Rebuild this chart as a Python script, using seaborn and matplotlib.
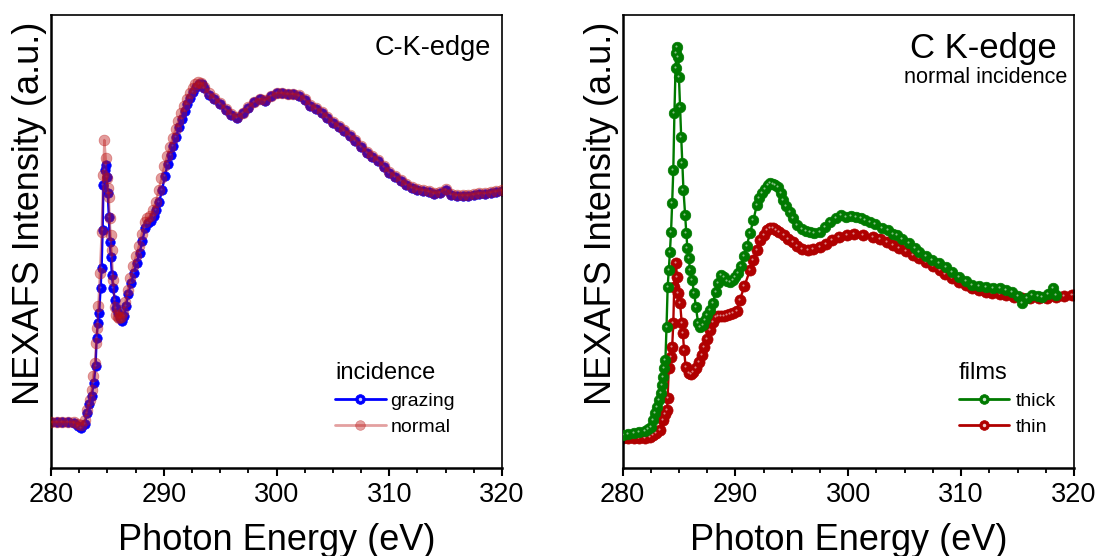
import matplotlib
matplotlib.use("Agg")
import matplotlib.pyplot as plt
import matplotlib.transforms as mtransforms
from matplotlib.lines import Line2D
from matplotlib.ticker import MultipleLocator
import numpy as np
import pandas as pd
import seaborn as sns

# ---------------- data (arbitrary intensity units) -------------
grazing_x = [280.0, 280.5, 281.0, 281.5, 282.0, 282.4, 282.7, 283.0, 283.2, 283.4, 283.6, 283.8,
             283.95, 284.05, 284.15, 284.27, 284.4, 284.49, 284.58, 284.65, 284.75, 284.84, 284.93,
             285.03, 285.13, 285.22, 285.3, 285.4, 285.51, 285.66, 285.8, 285.96, 286.1, 286.26,
             286.45, 286.65, 286.85, 287.1, 287.35, 287.6, 287.85, 288.1, 288.35, 288.6, 288.85,
             289.1, 289.35, 289.6, 289.85, 290.1, 290.35, 290.6, 290.85, 291.1, 291.35, 291.6,
             291.85, 292.1, 292.35, 292.6, 292.85, 293.1, 293.35, 293.6, 294.0, 294.5, 295.0,
             295.5, 296.0, 296.5, 297.0, 297.5, 298.0, 298.5, 299.0, 299.5, 300.0, 300.5, 301.0,
             301.5, 302.0, 302.5, 303.0, 303.5, 304.0, 304.5, 305.0, 305.5, 306.0, 306.5, 307.0,
             307.5, 308.0, 308.5, 309.0, 309.5, 310.0, 310.5, 311.0, 311.5, 312.0, 312.5, 313.0,
             313.5, 314.0, 314.5, 315.0, 315.5, 316.0, 316.5, 317.0, 317.5, 318.0, 318.5, 319.0,
             319.5, 320.0]
grazing_y = [0.46, 0.46, 0.46, 0.46, 0.45, 0.42, 0.40, 0.44, 0.55, 0.64, 0.72, 0.85,
             1.02, 1.30, 1.45, 1.55, 1.80, 2.00, 2.38, 2.83, 2.98, 3.03, 2.91,
             2.75, 2.51, 2.26, 2.11, 1.93, 1.80, 1.68, 1.60, 1.55, 1.50, 1.47,
             1.52, 1.62, 1.74, 1.85, 1.95, 2.05, 2.15, 2.27, 2.40, 2.45, 2.47,
             2.52, 2.58, 2.66, 2.78, 2.92, 3.04, 3.13, 3.22, 3.31, 3.41, 3.49,
             3.57, 3.64, 3.70, 3.76, 3.81, 3.84, 3.84, 3.80, 3.73, 3.69, 3.64,
             3.58, 3.53, 3.50, 3.55, 3.60, 3.66, 3.69, 3.67, 3.72, 3.75, 3.75, 3.74,
             3.74, 3.72, 3.68, 3.62, 3.59, 3.55, 3.50, 3.45, 3.41, 3.37, 3.32, 3.27,
             3.21, 3.15, 3.11, 3.07, 3.01, 2.95, 2.91, 2.87, 2.83, 2.80, 2.78, 2.77,
             2.76, 2.74, 2.75, 2.78, 2.73, 2.72, 2.72, 2.72, 2.73, 2.74, 2.74, 2.75,
             2.76, 2.77]

normal_x = [280.0, 280.5, 281.0, 281.5, 282.0, 282.4, 282.7, 283.0, 283.2, 283.45, 283.6, 283.75,
            283.9, 284.0, 284.1, 284.2, 284.34, 284.49, 284.63, 284.73, 284.85, 284.93, 285.03,
            285.13, 285.2, 285.28, 285.37, 285.51, 285.66, 285.8, 285.93, 286.05, 286.2, 286.4,
            286.6, 286.8, 287.05, 287.3, 287.55, 287.8, 288.05, 288.3, 288.55, 288.8, 289.05,
            289.3, 289.55, 289.8, 290.05, 290.3, 290.55, 290.8, 291.05, 291.3, 291.55, 291.8,
            292.05, 292.3, 292.55, 292.8, 293.05, 293.3, 293.6, 294.0, 294.5, 295.0, 295.5,
            296.0, 296.5, 297.0, 297.5, 298.0, 298.5, 299.0, 299.5, 300.0, 300.5, 301.0, 301.5,
            302.0, 302.5, 303.0, 303.5, 304.0, 304.5, 305.0, 305.5, 306.0, 306.5, 307.0, 307.5,
            308.0, 308.5, 309.0, 309.5, 310.0, 310.5, 311.0, 311.5, 312.0, 312.5, 313.0, 313.5,
            314.0, 314.5, 315.0, 315.5, 316.0, 316.5, 317.0, 317.5, 318.0, 318.5, 319.0, 319.5,
            320.0]
normal_y = [0.46, 0.46, 0.46, 0.46, 0.46, 0.44, 0.43, 0.48, 0.58, 0.68, 0.78, 0.92,
            1.05, 1.25, 1.40, 1.62, 1.95, 2.36, 2.93, 3.28, 3.10, 2.90, 2.80,
            2.71, 2.50, 2.33, 2.18, 1.88, 1.61, 1.53, 1.51, 1.50, 1.51, 1.56,
            1.66, 1.78, 1.90, 2.02, 2.12, 2.22, 2.34, 2.46, 2.50, 2.52, 2.58,
            2.66, 2.78, 2.90, 3.02, 3.12, 3.21, 3.30, 3.39, 3.47, 3.55, 3.62,
            3.69, 3.75, 3.80, 3.84, 3.86, 3.85, 3.81, 3.75, 3.70, 3.65, 3.59,
            3.54, 3.51, 3.55, 3.61, 3.66, 3.69, 3.68, 3.72, 3.75, 3.75, 3.74, 3.74,
            3.73, 3.69, 3.63, 3.60, 3.56, 3.51, 3.46, 3.42, 3.38, 3.33, 3.28, 3.22,
            3.16, 3.12, 3.08, 3.02, 2.96, 2.92, 2.88, 2.84, 2.81, 2.79, 2.78, 2.77,
            2.75, 2.76, 2.79, 2.74, 2.73, 2.73, 2.73, 2.74, 2.75, 2.75, 2.76, 2.77,
            2.78]

thick_x = [280.0, 280.5, 281.0, 281.5, 282.0, 282.3, 282.5, 282.7, 282.9, 283.1, 283.25, 283.4,
           283.5, 283.6, 283.7, 283.8, 283.9, 284.0, 284.1, 284.2, 284.3, 284.4, 284.5, 284.6,
           284.7, 284.78, 284.85, 284.95, 285.0, 285.1, 285.2, 285.3, 285.4, 285.55, 285.65,
           285.75, 285.85, 286.0, 286.15, 286.35, 286.5, 286.7, 286.9, 287.1, 287.3, 287.5,
           287.75, 288.0, 288.25, 288.5, 288.75, 289.0, 289.25, 289.5, 289.75, 290.0, 290.25,
           290.5, 290.75, 291.0, 291.3, 291.6, 291.9, 292.1, 292.35, 292.6, 292.85, 293.05,
           293.3, 293.55, 293.8, 294.0, 294.2, 294.5, 294.8, 295.1, 295.5, 295.9, 296.3, 296.6,
           297.0, 297.5, 297.9, 298.4, 298.9, 299.4, 299.8, 300.2, 300.7, 301.1, 301.5, 301.9,
           302.4, 303.0, 303.5, 304.0, 304.3, 304.8, 305.4, 305.9, 306.3, 306.9, 307.45, 308.0,
           308.7, 309.2, 309.8, 310.4, 311.0, 311.6, 312.2, 312.8, 313.4, 314.0, 314.5, 315.0,
           315.4, 315.8, 316.3, 316.8, 317.2, 317.7, 318.1, 318.4]
thick_y = [0.33, 0.34, 0.35, 0.36, 0.37, 0.39, 0.41, 0.48, 0.55, 0.61, 0.68, 0.75,
           0.83, 0.91, 1.00, 1.08, 1.41, 1.81, 1.98, 2.16, 2.36, 2.65, 2.98, 3.55,
           4.00, 4.15, 4.21, 4.11, 3.91, 3.61, 3.31, 3.05, 2.78, 2.53, 2.35,
           2.20, 2.10, 1.98, 1.88, 1.75, 1.61, 1.45, 1.41, 1.43, 1.48, 1.53,
           1.58, 1.65, 1.76, 1.85, 1.93, 1.91, 1.87, 1.86, 1.88, 1.91, 1.95,
           2.02, 2.12, 2.22, 2.35, 2.48, 2.63, 2.70, 2.75, 2.79, 2.83, 2.85,
           2.84, 2.83, 2.81, 2.75, 2.68, 2.62, 2.56, 2.50, 2.43, 2.39, 2.37, 2.36,
           2.35, 2.36, 2.41, 2.46, 2.50, 2.53, 2.51, 2.52, 2.51, 2.50, 2.48, 2.46,
           2.44, 2.40, 2.38, 2.34, 2.33, 2.29, 2.25, 2.20, 2.16, 2.12, 2.08, 2.05,
           2.01, 1.96, 1.91, 1.87, 1.83, 1.82, 1.81, 1.80, 1.80, 1.78, 1.76, 1.72,
           1.65, 1.70, 1.73, 1.72, 1.71, 1.74, 1.80, 1.73]

thin_x = [280.0, 280.5, 281.0, 281.5, 282.0, 282.4, 282.7, 283.0, 283.35, 283.6, 283.8, 283.95,
          284.0, 284.1, 284.3, 284.4, 284.5, 284.58, 284.7, 284.85, 284.95, 285.1, 285.25,
          285.35, 285.45, 285.6, 285.85, 286.05, 286.25, 286.5, 286.75, 287.0, 287.25, 287.5,
          287.75, 288.0, 288.25, 288.5, 288.75, 289.0, 289.25, 289.5, 289.8, 290.1, 290.4,
          290.8, 291.3, 291.6, 291.9, 292.2, 292.5, 292.8, 293.05, 293.3, 293.6, 293.9, 294.3,
          294.7, 295.1, 295.5, 295.9, 296.4, 296.9, 297.5, 298.0, 298.6, 299.2, 299.85, 300.5,
          301.3, 302.15, 302.8, 303.4, 304.0, 304.5, 305.1, 305.7, 306.3, 306.9, 307.5, 308.1,
          308.6, 309.2, 309.8, 310.45, 311.0, 311.6, 312.2, 312.75, 313.4, 314.0, 314.7, 315.4,
          316.1, 316.9, 317.6, 318.4, 319.1, 319.8, 320.0]
thin_y = [0.30, 0.30, 0.30, 0.30, 0.30, 0.31, 0.33, 0.35, 0.38, 0.48, 0.54, 0.58,
          0.70, 1.00, 1.11, 1.21, 1.45, 1.81, 2.05, 1.91, 1.75, 1.65, 1.45,
          1.35, 1.18, 1.01, 0.95, 0.94, 0.96, 1.00, 1.06, 1.13, 1.21, 1.29,
          1.38, 1.46, 1.51, 1.52, 1.52, 1.52, 1.53, 1.54, 1.55, 1.57, 1.68,
          1.82, 1.98, 2.08, 2.18, 2.28, 2.33, 2.38, 2.40, 2.40, 2.38, 2.36, 2.33,
          2.29, 2.26, 2.22, 2.19, 2.18, 2.19, 2.21, 2.24, 2.28, 2.31, 2.33, 2.34,
          2.33, 2.31, 2.29, 2.26, 2.23, 2.20, 2.17, 2.13, 2.10, 2.06, 2.02, 1.98,
          1.94, 1.90, 1.86, 1.83, 1.80, 1.78, 1.76, 1.75, 1.74, 1.73, 1.71, 1.70,
          1.70, 1.70, 1.70, 1.71, 1.72, 1.73, 1.73]

x_ticks = [280, 290, 300, 310, 320]
left_labels = ["grazing", "normal"]
right_labels = ["thick", "thin"]

# ---------------- styling ----------------
sns.set_theme(style="ticks")
plt.rcParams["font.family"] = ["Liberation Sans", "DejaVu Sans"]
plt.rcParams["text.color"] = "black"
plt.rcParams["axes.labelcolor"] = "black"
plt.rcParams["xtick.color"] = "black"
plt.rcParams["ytick.color"] = "black"
plt.rcParams["legend.labelcolor"] = "black"

BLUE = "#0000FF"
PINK = "#BB1212"
GREEN = "#007A00"
RED = "#B00000"

fig = plt.figure(figsize=(11, 5.56), dpi=100)
ax1 = fig.add_axes([51 / 1100, 88 / 556, 451 / 1100, 453 / 556])
ax2 = fig.add_axes([622.5 / 1100, 88 / 556, 451.5 / 1100, 453 / 556])


def draw(ax, x, y, color, ms, alpha=1.0, lw=1.7, hl_alpha=0.0, hl_ms=1.5, z=2):
    df = pd.DataFrame({"E": x, "I": y})
    sns.lineplot(data=df, x="E", y="I", ax=ax, color=color, lw=lw, alpha=alpha,
                 marker="o", markersize=ms, markeredgecolor=color, markeredgewidth=0.5,
                 sort=False, estimator=None, legend=False, zorder=z)
    if hl_alpha > 0:
        off = mtransforms.offset_copy(ax.transData, fig=fig, x=-1.0, y=1.0, units="dots")
        ax.plot(x, y, ls="none", marker="o", markersize=hl_ms, color="white",
                alpha=hl_alpha, markeredgewidth=0, transform=off, zorder=z + 0.1)


draw(ax1, grazing_x, grazing_y, BLUE, 6.8, hl_alpha=0.25, z=2)
draw(ax1, normal_x, normal_y, PINK, 7.8, alpha=0.42, z=3)
draw(ax2, thin_x, thin_y, RED, 8.0, hl_alpha=0.55, z=2)
draw(ax2, thick_x, thick_y, GREEN, 7.6, hl_alpha=0.55, z=3)

for ax in (ax1, ax2):
    ax.set_xlim(280, 320)
    ax.set_ylim(0, 4.53)
    ax.set_xticks(x_ticks)
    ax.set_xticklabels([str(t) for t in x_ticks])
    ax.xaxis.set_minor_locator(MultipleLocator(2.5))
    ax.set_yticks([])
    ax.tick_params(axis="x", which="major", direction="out", length=6, width=1.5,
                   labelsize=19.5, pad=4, colors="black")
    ax.tick_params(axis="x", which="minor", direction="out", length=3.5, width=1.3)
    ax.tick_params(top=False, right=False)
    for s in ("left", "bottom"):
        ax.spines[s].set_linewidth(1.8)
        ax.spines[s].set_color("black")
    for s in ("top", "right"):
        ax.spines[s].set_linewidth(1.2)
        ax.spines[s].set_color("black")
    ax.set_xlabel("Photon Energy (eV)", fontsize=26, labelpad=11)
    ax.set_ylabel("NEXAFS Intensity (a.u.)", fontsize=26)
    ax.yaxis.set_label_coords(-0.008, 0.563)

ax1.text(0.975, 0.955, "C-K-edge", transform=ax1.transAxes, ha="right", va="top", fontsize=19.5)
ax2.text(0.962, 0.962, "C K-edge", transform=ax2.transAxes, ha="right", va="top", fontsize=25)
ax2.text(0.985, 0.885, "normal incidence", transform=ax2.transAxes, ha="right", va="top",
         fontsize=15.6)


def handle(color, alpha=1.0, hl=0.0):
    base = Line2D([], [], color=color, lw=2, alpha=alpha, marker="o", markersize=7,
                  markeredgecolor=color, markeredgewidth=0.5)
    if hl > 0:
        dot = Line2D([], [], ls="none", marker="o", markersize=2.5, color="white",
                     alpha=hl, markeredgewidth=0)
        return (base, dot)
    return base


leg_kw = dict(loc="upper left", frameon=False, fontsize=14, title_fontsize=17,
              handlelength=2.6, labelspacing=0.45, borderpad=0, borderaxespad=0,
              alignment="left", numpoints=1)
leg1 = ax1.legend([handle(BLUE, hl=0.8), handle(PINK, alpha=0.4)], left_labels,
                  title="incidence", bbox_to_anchor=(0.63, 0.235), handletextpad=0.25,
                  **leg_kw)
leg2 = ax2.legend([handle(GREEN, hl=0.8), handle(RED, hl=0.8)], right_labels,
                  title="films", bbox_to_anchor=(0.745, 0.235), handletextpad=0.3,
                  **leg_kw)

fig.savefig("out.png", dpi=100)
